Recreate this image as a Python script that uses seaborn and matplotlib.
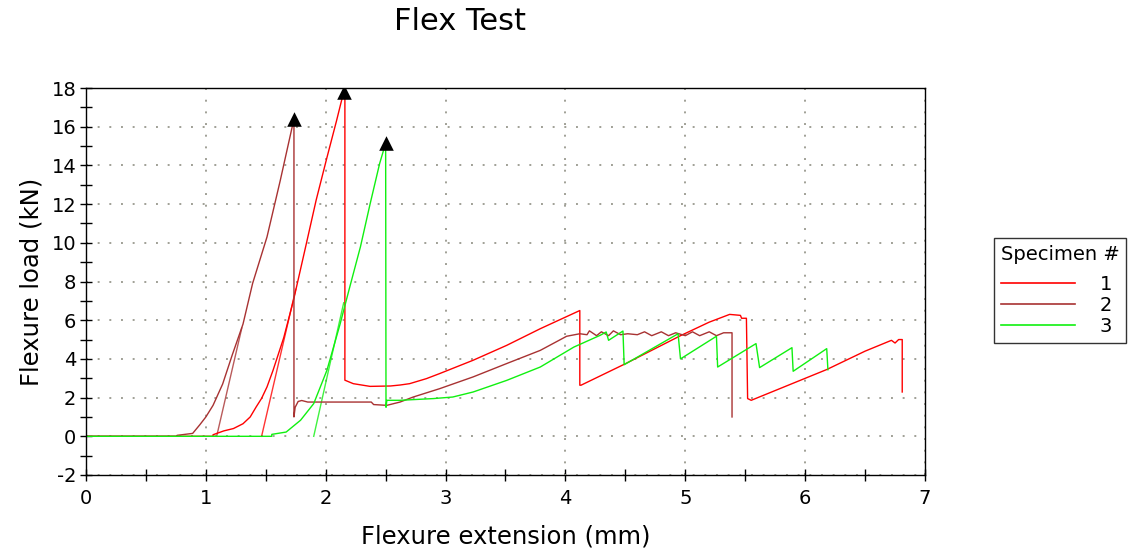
import numpy as np
import pandas as pd
import matplotlib
matplotlib.use("Agg")
import matplotlib.pyplot as plt
from matplotlib.lines import Line2D
from matplotlib.ticker import MultipleLocator
import seaborn as sns

plt.rcParams["axes.unicode_minus"] = False

# ---------------- data ----------------
specimens = ["1", "2", "3"]

x1 = [0, 1.06, 1.06, 1.15, 1.23, 1.31, 1.37, 1.42, 1.465, 1.51, 1.56, 1.65, 1.73,
      1.84, 1.92, 2.01, 2.09, 2.15, 2.16, 2.16, 2.23, 2.30, 2.37, 2.54, 2.62, 2.70,
      2.84, 2.95, 3.23, 3.51, 3.79, 4.12, 4.12, 4.13, 4.50, 4.96, 5.20, 5.37, 5.46,
      5.47, 5.51, 5.52, 5.55, 6.18, 6.50, 6.72, 6.75, 6.78, 6.81, 6.81]
y1 = [0, 0, 0.08, 0.28, 0.4, 0.65, 1.0, 1.52, 1.96, 2.55, 3.4, 5.1, 7.0,
      10.0, 12.2, 14.4, 16.3, 17.8, 17.8, 2.9, 2.72, 2.65, 2.58, 2.6, 2.65, 2.72,
      2.98, 3.24, 3.93, 4.70, 5.56, 6.5, 2.64, 2.64, 3.75, 5.2, 5.9, 6.3, 6.25,
      6.1, 6.1, 1.95, 1.86, 3.45, 4.4, 4.96, 4.82, 5.0, 5.0, 2.29]

x2 = [0, 0.76, 0.76, 0.89, 0.95, 1.0, 1.06, 1.14, 1.22, 1.31, 1.39, 1.51, 1.62,
      1.735, 1.735, 1.745, 1.77, 1.80, 1.85, 2.10, 2.38, 2.40, 2.51, 2.62, 2.73,
      2.95, 3.23, 3.51, 3.79, 4.01, 4.12, 4.18, 4.20, 4.26, 4.30, 4.36, 4.40, 4.46,
      4.52, 4.60, 4.66, 4.72, 4.80, 4.86, 4.92, 5.00, 5.06, 5.12, 5.20, 5.26, 5.32,
      5.39, 5.39]
y2 = [0, 0, 0.05, 0.15, 0.6, 1.0, 1.6, 2.7, 4.2, 5.8, 7.9, 10.3, 13.2,
      16.4, 1.0, 1.5, 1.8, 1.85, 1.77, 1.77, 1.77, 1.64, 1.6, 1.77, 2.03,
      2.46, 3.07, 3.76, 4.44, 5.17, 5.3, 5.25, 5.45, 5.2, 5.4, 5.2, 5.45, 5.25,
      5.3, 5.25, 5.4, 5.2, 5.4, 5.2, 5.35, 5.2, 5.4, 5.2, 5.4, 5.2, 5.35,
      5.35, 1.0]

x3 = [0, 1.55, 1.55, 1.67, 1.79, 1.90, 2.01, 2.12, 2.20, 2.29, 2.37, 2.45, 2.50,
      2.503, 2.51, 2.62, 2.90, 3.06, 3.23, 3.51, 3.79, 4.07, 4.29, 4.34, 4.36,
      4.48, 4.49, 4.94, 4.96, 5.26, 5.27, 5.59, 5.62, 5.89, 5.90, 6.18, 6.19]
y3 = [0, 0, 0.1, 0.22, 0.83, 1.69, 3.41, 5.8, 7.7, 9.8, 12.0, 14.1, 15.15,
      1.5, 1.86, 1.86, 1.95, 2.03, 2.29, 2.89, 3.58, 4.61, 5.22, 5.39, 4.96,
      5.44, 3.7, 5.3, 4.0, 5.17, 3.58, 4.79, 3.55, 4.58, 3.36, 4.53, 3.44]

# modulus (slope) lines
mod_x1 = [1.465, 1.75]
mod_y1 = [0, 7.6]
mod_x2 = [1.09, 1.30]
mod_y2 = [0, 5.6]
mod_x3 = [1.90, 2.15]
mod_y3 = [0, 6.9]

# peak markers
peak_x = [2.15, 1.735, 2.503]
peak_y = [17.8, 16.4, 15.15]

colors = {"1": "#ff0000", "2": "#a83232", "3": "#10f010"}

title = "Flex Test"
xlabel = "Flexure extension (mm)"
ylabel = "Flexure load (kN)"

# ---------------- build tables ----------------
frames = []
for sp, xs, ys in zip(specimens, [x1, x2, x3], [y1, y2, y3]):
    frames.append(pd.DataFrame({"x": xs, "y": ys, "Specimen": sp,
                                "order": np.arange(len(xs))}))
curves = pd.DataFrame(pd.concat(frames, ignore_index=True))

mods = []
for sp, xs, ys in zip(specimens, [mod_x1, mod_x2, mod_x3], [mod_y1, mod_y2, mod_y3]):
    mods.append(pd.DataFrame({"x": xs, "y": ys, "Specimen": sp}))
mods = pd.concat(mods, ignore_index=True)

peaks = pd.DataFrame({"x": peak_x, "y": peak_y})

# ---------------- figure ----------------
fig = plt.figure(figsize=(11.34, 5.5), dpi=100)
ax = fig.add_axes([86 / 1134, 75 / 550, (925 - 86) / 1134, (475 - 88) / 550])

for sp in specimens:
    sns.lineplot(data=mods[mods.Specimen == sp], x="x", y="y", color=colors[sp],
                 lw=1.0, sort=False, estimator=None, legend=False, ax=ax, alpha=0.8)
for sp in specimens:
    sns.lineplot(data=curves[curves.Specimen == sp], x="x", y="y", color=colors[sp],
                 lw=1.0, sort=False, estimator=None, legend=False, ax=ax)

sns.scatterplot(data=peaks, x="x", y="y", marker="^", color="black", s=110,
                edgecolor="black", linewidth=0, ax=ax, zorder=5, legend=False)

ax.set_xlim(0, 7)
ax.set_ylim(-2, 18)
ax.xaxis.set_major_locator(MultipleLocator(1))
ax.xaxis.set_minor_locator(MultipleLocator(0.5))
ax.yaxis.set_major_locator(MultipleLocator(2))
ax.yaxis.set_minor_locator(MultipleLocator(1))
ax.tick_params(which="both", direction="inout", length=8, width=1, color="black",
               labelsize=14, top=False, right=False)
ax.tick_params(axis="x", which="both", pad=6)
ax.tick_params(axis="y", which="both", pad=3)

ax.grid(True, which="major", color="#a0a096", linestyle=(0, (1, 5)), linewidth=1.4)
for s in ax.spines.values():
    s.set_color("black")
    s.set_linewidth(1.0)

ax.set_xlabel(xlabel, fontsize=17.5, labelpad=12)
ax.set_ylabel(ylabel, fontsize=17.5, labelpad=6)

fig.text(460 / 1134, 1 - 22 / 550, title, fontsize=22, ha="center", va="center")

handles = [Line2D([], [], color=colors[sp], lw=1.2) for sp in specimens]
leg = fig.legend(handles, specimens, title="Specimen #", loc="upper left",
                 bbox_to_anchor=(994 / 1134, 1 - 238 / 550), frameon=True,
                 fancybox=False, edgecolor="black", fontsize=14, title_fontsize=14,
                 handlelength=3.8, handletextpad=1.3, labelspacing=0.1,
                 borderaxespad=0, borderpad=0.35, alignment="left")
leg._legend_box.sep = 8
leg.get_frame().set_linewidth(1.0)

fig.savefig("out.png", dpi=100)
